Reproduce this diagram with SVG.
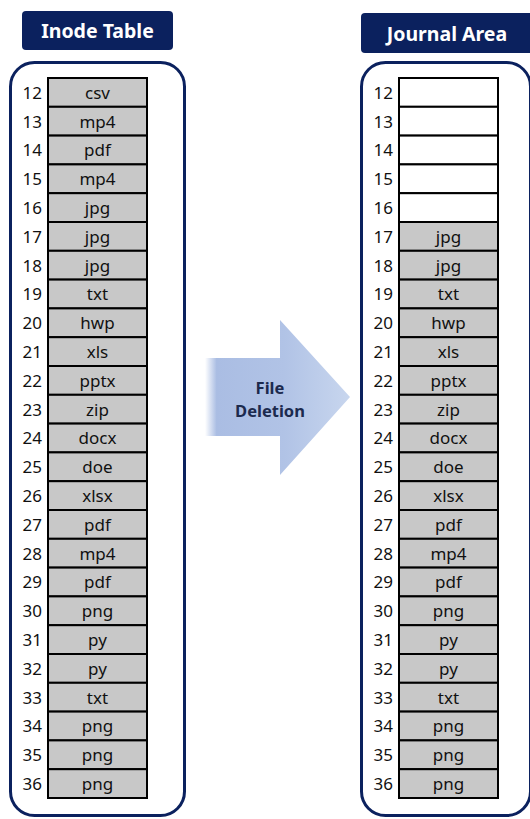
<svg xmlns="http://www.w3.org/2000/svg" width="530" height="819" viewBox="0 0 530 819">
<defs>
<linearGradient id="ag" x1="205" y1="0" x2="350" y2="0" gradientUnits="userSpaceOnUse">
<stop offset="0" stop-color="#ffffff"/>
<stop offset="0.08" stop-color="#aabde3"/>
<stop offset="0.55" stop-color="#b1c3e6"/>
<stop offset="1" stop-color="#c8d6ee"/>
</linearGradient>
<style>
.hdr{fill:#0b215e}
.hdrt{fill:#fff;font-family:"Noto Sans","Open Sans",sans-serif;font-weight:bold;font-size:19.5px;text-anchor:middle}
.box{fill:#fff;stroke:#0b215e;stroke-width:3}
.c{fill:#c8c8c8;stroke:#000;stroke-width:2}
.e{fill:#fff;stroke:#000;stroke-width:2}
.t{font-family:"Noto Sans","Open Sans",sans-serif;font-size:17px;fill:#111;text-anchor:middle}
.n{font-family:"Noto Sans","Open Sans",sans-serif;font-size:17px;fill:#111;text-anchor:end}
.at{font-family:"Noto Sans","Open Sans",sans-serif;font-size:16.5px;font-weight:bold;fill:#1c2a4e;text-anchor:middle}
</style>
</defs>
<g id="inode-header"><rect class="hdr" x="22" y="11" width="151" height="39" rx="4"/><text class="hdrt" x="97.5" y="38">Inode Table</text></g>
<g id="journal-header"><rect class="hdr" x="361" y="13" width="180" height="40" rx="4"/><text class="hdrt" x="447" y="41">Journal Area</text></g>
<g id="inode-table">
<rect class="box" x="10.5" y="62.5" width="174" height="753" rx="24"/>
<g id="inode-rows">
<rect class="c" x="48" y="78" width="99" height="28.8"/><text class="n" x="42" y="98.8">12</text><text class="t" x="97.5" y="98.8">csv</text>
<rect class="c" x="48" y="106.8" width="99" height="28.8"/><text class="n" x="42" y="127.6">13</text><text class="t" x="97.5" y="127.6">mp4</text>
<rect class="c" x="48" y="135.6" width="99" height="28.8"/><text class="n" x="42" y="156.4">14</text><text class="t" x="97.5" y="156.4">pdf</text>
<rect class="c" x="48" y="164.4" width="99" height="28.8"/><text class="n" x="42" y="185.2">15</text><text class="t" x="97.5" y="185.2">mp4</text>
<rect class="c" x="48" y="193.2" width="99" height="28.8"/><text class="n" x="42" y="214">16</text><text class="t" x="97.5" y="214">jpg</text>
<rect class="c" x="48" y="222" width="99" height="28.8"/><text class="n" x="42" y="242.8">17</text><text class="t" x="97.5" y="242.8">jpg</text>
<rect class="c" x="48" y="250.8" width="99" height="28.8"/><text class="n" x="42" y="271.6">18</text><text class="t" x="97.5" y="271.6">jpg</text>
<rect class="c" x="48" y="279.6" width="99" height="28.8"/><text class="n" x="42" y="300.4">19</text><text class="t" x="97.5" y="300.4">txt</text>
<rect class="c" x="48" y="308.4" width="99" height="28.8"/><text class="n" x="42" y="329.2">20</text><text class="t" x="97.5" y="329.2">hwp</text>
<rect class="c" x="48" y="337.2" width="99" height="28.8"/><text class="n" x="42" y="358">21</text><text class="t" x="97.5" y="358">xls</text>
<rect class="c" x="48" y="366" width="99" height="28.8"/><text class="n" x="42" y="386.8">22</text><text class="t" x="97.5" y="386.8">pptx</text>
<rect class="c" x="48" y="394.8" width="99" height="28.8"/><text class="n" x="42" y="415.6">23</text><text class="t" x="97.5" y="415.6">zip</text>
<rect class="c" x="48" y="423.6" width="99" height="28.8"/><text class="n" x="42" y="444.4">24</text><text class="t" x="97.5" y="444.4">docx</text>
<rect class="c" x="48" y="452.4" width="99" height="28.8"/><text class="n" x="42" y="473.2">25</text><text class="t" x="97.5" y="473.2">doe</text>
<rect class="c" x="48" y="481.2" width="99" height="28.8"/><text class="n" x="42" y="502">26</text><text class="t" x="97.5" y="502">xlsx</text>
<rect class="c" x="48" y="510" width="99" height="28.8"/><text class="n" x="42" y="530.8">27</text><text class="t" x="97.5" y="530.8">pdf</text>
<rect class="c" x="48" y="538.8" width="99" height="28.8"/><text class="n" x="42" y="559.6">28</text><text class="t" x="97.5" y="559.6">mp4</text>
<rect class="c" x="48" y="567.6" width="99" height="28.8"/><text class="n" x="42" y="588.4">29</text><text class="t" x="97.5" y="588.4">pdf</text>
<rect class="c" x="48" y="596.4" width="99" height="28.8"/><text class="n" x="42" y="617.2">30</text><text class="t" x="97.5" y="617.2">png</text>
<rect class="c" x="48" y="625.2" width="99" height="28.8"/><text class="n" x="42" y="646">31</text><text class="t" x="97.5" y="646">py</text>
<rect class="c" x="48" y="654" width="99" height="28.8"/><text class="n" x="42" y="674.8">32</text><text class="t" x="97.5" y="674.8">py</text>
<rect class="c" x="48" y="682.8" width="99" height="28.8"/><text class="n" x="42" y="703.6">33</text><text class="t" x="97.5" y="703.6">txt</text>
<rect class="c" x="48" y="711.6" width="99" height="28.8"/><text class="n" x="42" y="732.4">34</text><text class="t" x="97.5" y="732.4">png</text>
<rect class="c" x="48" y="740.4" width="99" height="28.8"/><text class="n" x="42" y="761.2">35</text><text class="t" x="97.5" y="761.2">png</text>
<rect class="c" x="48" y="769.2" width="99" height="28.8"/><text class="n" x="42" y="790">36</text><text class="t" x="97.5" y="790">png</text>
</g>
</g>
<g id="journal-area">
<rect class="box" x="361.5" y="62.5" width="169" height="753" rx="24"/>
<g id="journal-rows">
<rect class="e" x="399" y="78" width="99" height="28.8"/><text class="n" x="393" y="98.8">12</text>
<rect class="e" x="399" y="106.8" width="99" height="28.8"/><text class="n" x="393" y="127.6">13</text>
<rect class="e" x="399" y="135.6" width="99" height="28.8"/><text class="n" x="393" y="156.4">14</text>
<rect class="e" x="399" y="164.4" width="99" height="28.8"/><text class="n" x="393" y="185.2">15</text>
<rect class="e" x="399" y="193.2" width="99" height="28.8"/><text class="n" x="393" y="214">16</text>
<rect class="c" x="399" y="222" width="99" height="28.8"/><text class="n" x="393" y="242.8">17</text><text class="t" x="448.5" y="242.8">jpg</text>
<rect class="c" x="399" y="250.8" width="99" height="28.8"/><text class="n" x="393" y="271.6">18</text><text class="t" x="448.5" y="271.6">jpg</text>
<rect class="c" x="399" y="279.6" width="99" height="28.8"/><text class="n" x="393" y="300.4">19</text><text class="t" x="448.5" y="300.4">txt</text>
<rect class="c" x="399" y="308.4" width="99" height="28.8"/><text class="n" x="393" y="329.2">20</text><text class="t" x="448.5" y="329.2">hwp</text>
<rect class="c" x="399" y="337.2" width="99" height="28.8"/><text class="n" x="393" y="358">21</text><text class="t" x="448.5" y="358">xls</text>
<rect class="c" x="399" y="366" width="99" height="28.8"/><text class="n" x="393" y="386.8">22</text><text class="t" x="448.5" y="386.8">pptx</text>
<rect class="c" x="399" y="394.8" width="99" height="28.8"/><text class="n" x="393" y="415.6">23</text><text class="t" x="448.5" y="415.6">zip</text>
<rect class="c" x="399" y="423.6" width="99" height="28.8"/><text class="n" x="393" y="444.4">24</text><text class="t" x="448.5" y="444.4">docx</text>
<rect class="c" x="399" y="452.4" width="99" height="28.8"/><text class="n" x="393" y="473.2">25</text><text class="t" x="448.5" y="473.2">doe</text>
<rect class="c" x="399" y="481.2" width="99" height="28.8"/><text class="n" x="393" y="502">26</text><text class="t" x="448.5" y="502">xlsx</text>
<rect class="c" x="399" y="510" width="99" height="28.8"/><text class="n" x="393" y="530.8">27</text><text class="t" x="448.5" y="530.8">pdf</text>
<rect class="c" x="399" y="538.8" width="99" height="28.8"/><text class="n" x="393" y="559.6">28</text><text class="t" x="448.5" y="559.6">mp4</text>
<rect class="c" x="399" y="567.6" width="99" height="28.8"/><text class="n" x="393" y="588.4">29</text><text class="t" x="448.5" y="588.4">pdf</text>
<rect class="c" x="399" y="596.4" width="99" height="28.8"/><text class="n" x="393" y="617.2">30</text><text class="t" x="448.5" y="617.2">png</text>
<rect class="c" x="399" y="625.2" width="99" height="28.8"/><text class="n" x="393" y="646">31</text><text class="t" x="448.5" y="646">py</text>
<rect class="c" x="399" y="654" width="99" height="28.8"/><text class="n" x="393" y="674.8">32</text><text class="t" x="448.5" y="674.8">py</text>
<rect class="c" x="399" y="682.8" width="99" height="28.8"/><text class="n" x="393" y="703.6">33</text><text class="t" x="448.5" y="703.6">txt</text>
<rect class="c" x="399" y="711.6" width="99" height="28.8"/><text class="n" x="393" y="732.4">34</text><text class="t" x="448.5" y="732.4">png</text>
<rect class="c" x="399" y="740.4" width="99" height="28.8"/><text class="n" x="393" y="761.2">35</text><text class="t" x="448.5" y="761.2">png</text>
<rect class="c" x="399" y="769.2" width="99" height="28.8"/><text class="n" x="393" y="790">36</text><text class="t" x="448.5" y="790">png</text>
</g>
</g>
<g id="connectors">
<g id="file-deletion-arrow">
<path d="M205,358 L280,358 L280,320 L350,397 L280,475 L280,436 L205,436 Z" fill="url(#ag)"/>
<text class="at" x="270" y="394">File</text>
<text class="at" x="270" y="417">Deletion</text>
</g>
</g>
</svg>
